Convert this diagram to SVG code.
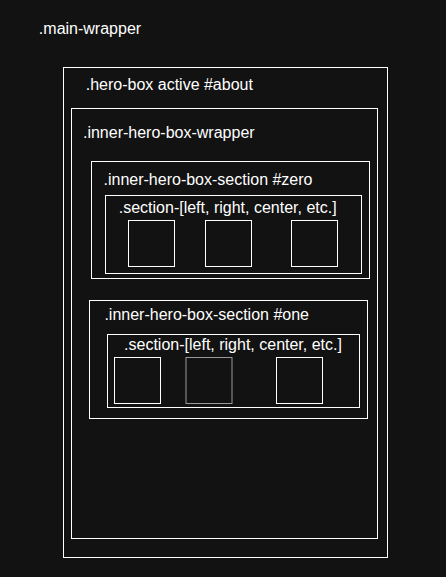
<svg xmlns="http://www.w3.org/2000/svg" width="446" height="577" viewBox="0 0 446 577">
<style>
.box{fill:none;stroke:#ffffff;stroke-width:1}
.gray{fill:none;stroke:#9a9a9a;stroke-width:1}
.lbl{font-family:"Liberation Sans",Arial,sans-serif;font-size:16px;fill:#ffffff;text-anchor:middle}
</style>
<rect x="0" y="0" width="446" height="577" fill="#121212"/>
<g id="main-wrapper">
<text class="lbl" x="90" y="34">.main-wrapper</text>
</g>
<g id="hero-box">
<rect class="box" x="63.5" y="67.5" width="324" height="490"/>
<text class="lbl" x="169.3" y="90">.hero-box active #about</text>
</g>
<g id="inner-wrapper">
<rect class="box" x="71.5" y="108.5" width="306" height="430"/>
<text class="lbl" x="168.8" y="138">.inner-hero-box-wrapper</text>
</g>
<g id="section-zero">
<rect class="box" x="91.5" y="161.5" width="278" height="117"/>
<text class="lbl" x="208" y="185">.inner-hero-box-section #zero</text>
</g>
<g id="section-zero-inner">
<rect class="box" x="105.5" y="195.5" width="256" height="78"/>
<text class="lbl" x="227.7" y="213">.section-[left, right, center, etc.]</text>
</g>
<g id="zero-box-1"><rect class="box" x="128.5" y="220.5" width="46" height="46"/></g>
<g id="zero-box-2"><rect class="box" x="205.5" y="220.5" width="46" height="46"/></g>
<g id="zero-box-3"><rect class="box" x="291.5" y="220.5" width="46" height="46"/></g>
<g id="section-one">
<rect class="box" x="89.5" y="300.5" width="278" height="118"/>
<text class="lbl" x="206.7" y="319.5">.inner-hero-box-section #one</text>
</g>
<g id="section-one-inner">
<rect class="box" x="107.5" y="334.5" width="252" height="73"/>
<text class="lbl" x="233" y="350">.section-[left, right, center, etc.]</text>
</g>
<g id="one-box-1"><rect class="box" x="114.5" y="357.5" width="46" height="46"/></g>
<g id="one-box-2"><rect class="gray" x="186" y="357.5" width="46" height="46"/></g>
<g id="one-box-3"><rect class="box" x="276.5" y="357.5" width="46" height="46"/></g>
<g id="connectors"></g>
</svg>
